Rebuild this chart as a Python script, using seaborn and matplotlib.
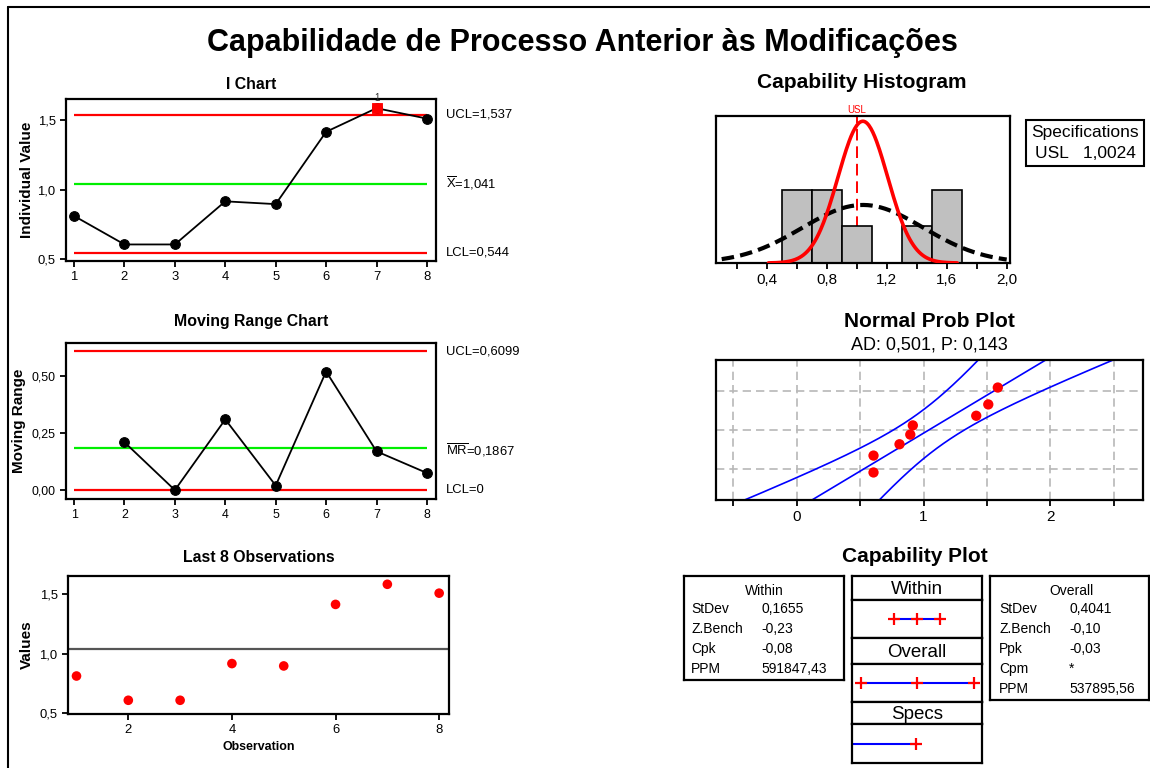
import numpy as np
import pandas as pd
import matplotlib
matplotlib.use('Agg')
import matplotlib.pyplot as plt
import seaborn as sns
from matplotlib import font_manager
from matplotlib.lines import Line2D
from matplotlib.ticker import FuncFormatter
from statistics import NormalDist

# Values
obs = [1, 2, 3, 4, 5, 6, 7, 8]
values = [0.81, 0.605, 0.605, 0.915, 0.895, 1.415, 1.585, 1.51]
mr_obs = [2, 3, 4, 5, 6, 7, 8]
moving_range = [0.21, 0.0, 0.31, 0.02, 0.52, 0.17, 0.075]
flagged_obs = [7]

i_ucl, i_mean, i_lcl = 1.537, 1.041, 0.544
mr_ucl, mr_mean, mr_lcl = 0.6099, 0.1867, 0.0

usl = 1.0024
sd_within = 0.1655
sd_overall = 0.4041
hist_bins = [0.5, 0.7, 0.9, 1.1, 1.3, 1.5, 1.7]
prob_grid = [0.10, 0.50, 0.90]

within_labels = ['StDev', 'Z.Bench', 'Cpk', 'PPM']
within_values = ['0,1655', '-0,23', '-0,08', '591847,43']
overall_labels = ['StDev', 'Z.Bench', 'Ppk', 'Cpm', 'PPM']
overall_values = ['0,4041', '-0,10', '-0,03', '*', '537895,56']

# Fonts
def has_font(name):
    try:
        font_manager.findfont(name, fallback_to_default=False)
        return True
    except ValueError:
        return False

NARROW = 'Liberation Sans Narrow' if has_font('Liberation Sans Narrow') else 'Liberation Sans'
k = 1.0 if NARROW == 'Liberation Sans Narrow' else 0.85
SANS = 'Liberation Sans'

sns.set_theme(style='ticks')
plt.rcParams['font.family'] = [SANS, 'DejaVu Sans']
plt.rcParams['text.color'] = 'black'
plt.rcParams['axes.labelcolor'] = 'black'
plt.rcParams['axes.titlecolor'] = 'black'
plt.rcParams['axes.linewidth'] = 1.6
plt.rcParams['xtick.major.width'] = 1.3
plt.rcParams['ytick.major.width'] = 1.3
plt.rcParams['xtick.minor.width'] = 1.3
plt.rcParams['xtick.major.size'] = 4
plt.rcParams['ytick.major.size'] = 4
plt.rcParams['xtick.minor.size'] = 4
plt.rcParams['xtick.color'] = 'black'
plt.rcParams['ytick.color'] = 'black'
plt.rcParams['xtick.labelcolor'] = 'black'
plt.rcParams['ytick.labelcolor'] = 'black'
plt.rcParams['axes.edgecolor'] = 'black'
plt.rcParams['mathtext.fontset'] = 'custom'
plt.rcParams['mathtext.rm'] = NARROW

W, H = 1150, 768
fig = plt.figure(figsize=(W / 100, H / 100), dpi=100)


def box(l, t, r, b):
    return fig.add_axes([l / W, 1 - b / H, (r - l) / W, (b - t) / H])


def ftext(x, y, s, **kw):
    fig.text(x / W, 1 - y / H, s, **kw)


def comma(fmt):
    return FuncFormatter(lambda v, p: format(v, fmt).replace('.', ','))


def narrow_ticks(ax, size=11):
    for lab in ax.get_xticklabels() + ax.get_yticklabels():
        lab.set_fontfamily(NARROW)
        lab.set_fontsize(size * k)


def left_ylabel(ax, text, l, r, x=34):
    ax.set_ylabel(text, fontsize=11, fontweight='bold')
    ax.yaxis.set_label_coords((x - l) / (r - l), 0.5)


# figure frame (left and top edges)
fig.add_artist(Line2D([8 / W, 8 / W], [0, 1 - 7 / H], color='black', lw=1.5, transform=fig.transFigure))
fig.add_artist(Line2D([8 / W, 1], [1 - 7 / H, 1 - 7 / H], color='black', lw=1.5, transform=fig.transFigure))

ftext(582, 43, 'Capabilidade de Processo Anterior às Modificações', ha='center', va='center',
      fontsize=22, fontweight='bold', family=SANS)

# I Chart
ax = box(66, 99, 436, 261)
ax.hlines([i_ucl, i_lcl], 1, 8, color='#ff0000', lw=1.6, zorder=1)
ax.hlines(i_mean, 1, 8, color='#00ee00', lw=1.6, zorder=1)
sns.lineplot(x=obs, y=values, ax=ax, color='black', lw=1.3, marker='o', markersize=7,
             markeredgecolor='black', zorder=3)
flag_y = [values[o - 1] for o in flagged_obs]
sns.scatterplot(x=flagged_obs, y=flag_y, ax=ax, marker='s', color='#ff0000', s=60,
                edgecolor='#ff0000', zorder=4)
for o, v in zip(flagged_obs, flag_y):
    ax.annotate('1', (o, v), xytext=(0, 4), textcoords='offset points', ha='center',
                va='bottom', fontsize=7, color='#333333', annotation_clip=False)
ax.set_xlim(0.84, 8.18)
ax.set_ylim(0.486, 1.651)
ax.set_xticks(obs)
ax.set_yticks([0.5, 1.0, 1.5])
ax.yaxis.set_major_formatter(comma('.1f'))
narrow_ticks(ax)
left_ylabel(ax, 'Individual Value', 66, 436)
ax.set_title('I Chart', fontsize=13.5 * k, fontweight='bold', family=NARROW, pad=7)
for y, s in [(i_ucl, 'UCL=' + format(i_ucl, '.3f').replace('.', ',')),
             (i_mean, r'$\overline{\mathrm{X}}$=' + format(i_mean, '.3f').replace('.', ',')),
             (i_lcl, 'LCL=' + format(i_lcl, '.3f').replace('.', ','))]:
    ax.annotate(s, (1.0, y), xycoords=('axes fraction', 'data'), xytext=(7, 0),
                textcoords='offset points', va='center', fontsize=11 * k, family=NARROW)

# Moving Range Chart
ax = box(66, 343, 436, 499)
ax.hlines([mr_ucl, mr_lcl], 1, 8, color='#ff0000', lw=1.6, zorder=1)
ax.hlines(mr_mean, 1, 8, color='#00ee00', lw=1.6, zorder=1)
sns.lineplot(x=mr_obs, y=moving_range, ax=ax, color='black', lw=1.3, marker='o', markersize=7,
             markeredgecolor='black', zorder=3)
ax.set_xlim(0.84, 8.18)
ax.set_ylim(-0.039, 0.645)
ax.set_xticks(obs)
ax.set_yticks([0.0, 0.25, 0.5])
ax.yaxis.set_major_formatter(comma('.2f'))
narrow_ticks(ax, size=10.5)
left_ylabel(ax, 'Moving Range', 66, 436, x=26)
ax.set_title('Moving Range Chart', fontsize=13.5 * k, fontweight='bold', family=NARROW, pad=12)
for y, s, dy in [(mr_ucl, 'UCL=' + format(mr_ucl, '.4f').replace('.', ','), 0),
                 (mr_mean, r'$\overline{\mathrm{MR}}$=' + format(mr_mean, '.4f').replace('.', ','), -2),
                 (mr_lcl, 'LCL=0', 0)]:
    ax.annotate(s, (1.0, y), xycoords=('axes fraction', 'data'), xytext=(7, dy),
                textcoords='offset points', va='center', fontsize=11 * k, family=NARROW)

# Last 8 Observations
ax = box(68, 576, 449, 714)
ax.axhline(i_mean, color='#555555', lw=1.6, zorder=1)
sns.scatterplot(x=obs, y=values, ax=ax, color='#ff0000', s=48, edgecolor='none', zorder=3)
ax.set_xlim(0.836, 8.19)
ax.set_ylim(0.489, 1.655)
ax.set_xticks([2, 4, 6, 8])
ax.set_yticks([0.5, 1.0, 1.5])
ax.yaxis.set_major_formatter(comma('.1f'))
narrow_ticks(ax)
left_ylabel(ax, 'Values', 68, 449)
ax.set_xlabel('Observation', fontsize=10.5 * k, fontweight='bold', family=NARROW, labelpad=3)
ax.set_title('Last 8 Observations', fontsize=13.5 * k, fontweight='bold', family=NARROW, pad=10)

# Capability Histogram
ax = box(716, 116, 1010, 263)
ax.axvline(usl, color='#ff0000', lw=1.4, ls=(0, (6, 3)), zorder=1)
sns.histplot(x=values, bins=hist_bins, ax=ax, color='#c0c0c0', edgecolor='black',
             linewidth=1.2, alpha=1, zorder=2)
scale = len(values) * (hist_bins[1] - hist_bins[0])
xs = np.linspace(i_mean - 3.8 * sd_within, i_mean + 3.8 * sd_within, 200)
ax.plot(xs, scale * np.exp(-0.5 * ((xs - i_mean) / sd_within) ** 2) / (sd_within * np.sqrt(2 * np.pi)),
        color='#ff0000', lw=2.6, zorder=4)
xo = np.linspace(0.1, 2.0, 200)
ax.plot(xo, scale * np.exp(-0.5 * ((xo - i_mean) / sd_overall) ** 2) / (sd_overall * np.sqrt(2 * np.pi)),
        color='black', lw=3.0, ls=(0, (3, 1.5)), zorder=3)
ax.set_xlim(0.062, 2.022)
ax.set_ylim(0, 4.0)
ax.set_yticks([])
ax.set_ylabel('')
ax.set_xticks([0.4, 0.8, 1.2, 1.6, 2.0])
ax.set_xticks([0.2, 0.6, 1.0, 1.4, 1.8], minor=True)
ax.xaxis.set_major_formatter(comma('.1f'))
ax.tick_params(axis='x', labelsize=11)
ax.text(usl, 1.01, 'USL', transform=ax.get_xaxis_transform(), ha='center', va='bottom',
        fontsize=7, color='#ff0000')
ftext(862, 83, 'Capability Histogram', ha='center', va='center', fontsize=15, fontweight='bold')

ftext(1085, 143, 'Specifications\nUSL   ' + format(usl, '.4f').replace('.', ','), ha='center',
      va='center', fontsize=12.5, linespacing=1.5,
      bbox=dict(boxstyle='square,pad=0.3', fc='white', ec='black', lw=1.5))

# Normal Prob Plot
ax = box(716, 360, 1143, 500)
nd = NormalDist()
n = len(values)
sorted_vals = sorted(values)
zq = [nd.inv_cdf((i + 1 - 0.3) / (n + 0.4)) for i in range(n)]
for gx in np.arange(-0.5, 2.51, 0.5):
    ax.axvline(gx, color='#b8b8b8', lw=1.2, ls=(0, (5, 3)), zorder=0)
for p in prob_grid:
    ax.axhline(nd.inv_cdf(p), color='#b8b8b8', lw=1.2, ls=(0, (5, 3)), zorder=0)
zz = np.linspace(-2.5, 2.5, 200)
fit = i_mean + sd_overall * zz
half = 1.96 * sd_overall * np.sqrt((1 + zz ** 2 / 2) / n)
for line in (fit, fit - half, fit + half):
    ax.plot(line, zz, color='#0000ff', lw=1.2, zorder=2)
sns.scatterplot(x=sorted_vals, y=zq, ax=ax, color='#ff0000', s=55, edgecolor='none', zorder=4)
ax.set_xlim(-0.637, 2.73)
ax.set_ylim(-2.28, 2.28)
ax.set_yticks([])
ax.set_xticks([0, 1, 2])
ax.set_xticks([-0.5, 0.5, 1.5, 2.5], minor=True)
ax.tick_params(axis='x', labelsize=11)
ftext(929, 322, 'Normal Prob Plot', ha='center', va='center', fontsize=15, fontweight='bold')
ftext(929, 345, 'AD: 0,501, P: 0,143', ha='center', va='center', fontsize=13)

# Capability Plot
ftext(915, 557, 'Capability Plot', ha='center', va='center', fontsize=15, fontweight='bold')


def stats_box(l, t, r, b, title, labels, vals, xl, xv):
    a = box(l, t, r, b)
    a.set_xticks([])
    a.set_yticks([])
    ftext((l + r) / 2 + (2 if title == 'Overall' else 0), 591, title, ha='center', va='center', fontsize=10)
    for i, (lab, v) in enumerate(zip(labels, vals)):
        ftext(xl, 609 + 20 * i, lab, ha='left', va='center', fontsize=10)
        ftext(xv, 609 + 20 * i, v, ha='left', va='center', fontsize=10)


stats_box(684, 576, 844, 680, 'Within', within_labels, within_values, 691, 761)
stats_box(990, 576, 1149, 700, 'Overall', overall_labels, overall_values, 999, 1069)

cap_xlim = (-0.357, 2.426)
rows = [
    ('Within', 576, 600, 638, [i_mean - 3 * sd_within, i_mean, i_mean + 3 * sd_within]),
    ('Overall', 638, 664, 702, [i_mean - 3 * sd_overall, i_mean, i_mean + 3 * sd_overall]),
    ('Specs', 702, 724, 763, [cap_xlim[0], usl]),
]
for name, t, m, b, pts in rows:
    hdr = box(852, t, 982, m)
    hdr.set_xticks([])
    hdr.set_yticks([])
    hdr.text(0.5, 0.45, name, ha='center', va='center', fontsize=13.5, transform=hdr.transAxes)
    a = box(852, m, 982, b)
    a.plot([pts[0], pts[-1]], [0, 0], color='#0000ff', lw=1.5, zorder=1)
    marks = pts if name != 'Specs' else pts[1:]
    a.plot(marks, [0] * len(marks), ls='none', marker='+', ms=9, mew=1.6, color='#ff0000', zorder=2)
    a.set_xlim(*cap_xlim)
    a.set_ylim(-1, 1)
    a.set_xticks([])
    a.set_yticks([])

fig.savefig('out.png', dpi=100)
